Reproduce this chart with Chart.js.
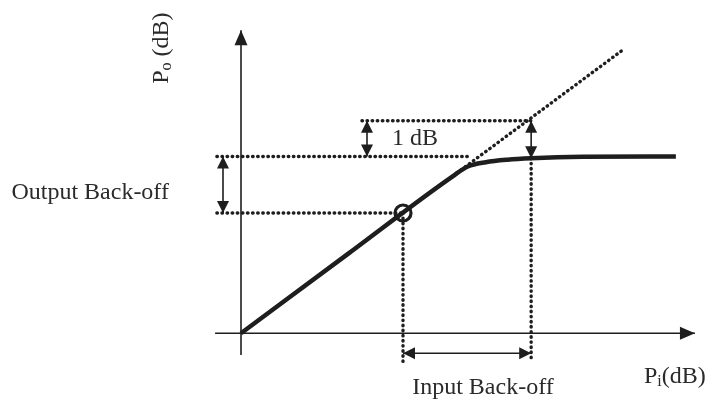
<!DOCTYPE html>
<html>
<head>
<meta charset="utf-8">
<script src="https://cdn.jsdelivr.net/npm/chart.js@4/dist/chart.umd.min.js"></script>
<style>
html, body { margin: 0; padding: 0; background: #fff; }
</style>
</head>
<body>
<canvas id="myChart" width="708" height="406"></canvas>
<script>
// amplifier transfer curve, input dB -> output dB
var curveIn  = [0, 3, 5.9, 6.3, 6.8, 7.4, 8.06, 9.5, 12.08]
var curveOut = [0, 2.24, 4.40, 4.66, 4.78, 4.85, 4.89, 4.93, 4.94]
// ideal linear gain (dotted extension)
var linIn  = [6.0, 10.61]
var linOut = [4.48, 7.92]
// key levels
var satOut  = 4.94          // saturated output
var opIn    = 4.5           // operating point
var opOut   = 3.36
var p1In    = 8.06          // 1 dB compression point
var p1Lin   = 5.94
var p1Out   = 4.89
// axis extents
var xAxisFrom = -0.72, xAxisTo = 12.61
var yAxisFrom = -0.61, yAxisTo = 8.47
// annotation texts
var labelText = ['1 dB', 'Output Back-off', 'Input Back-off']
var labelX    = [4.83, -4.19, 6.72]
var labelY    = [5.44, 3.92, -1.52]

var ink = '#1e1e1e'
var dotted = { borderDash: [0.5, 4.6], borderCapStyle: 'round', borderWidth: 3.4 }

function pts(xs, ys) { return xs.map((x, i) => ({ x: x, y: ys[i] })) }
function seg(x1, y1, x2, y2) { return [{ x: x1, y: y1 }, { x: x2, y: y2 }] }

function line(data, extra) {
    return Object.assign({
        data: data, showLine: true, pointRadius: 0, borderColor: ink,
        backgroundColor: ink, borderWidth: 1.6, clip: false, tension: 0
    }, extra || {})
}

var datasets = [
    line(seg(xAxisFrom, 0, xAxisTo, 0), { arrow: 'end', headLen: 15, headW: 13 }),
    line(seg(0, yAxisFrom, 0, yAxisTo), { arrow: 'end', headLen: 15, headW: 13 }),
    // dotted guides
    line(pts(linIn, linOut), dotted),
    line(seg(xAxisFrom + 0.05, satOut, 6.4, satOut), dotted),
    line(seg(xAxisFrom + 0.05, opOut, opIn, opOut), dotted),
    line(seg(3.36, p1Lin, p1In, p1Lin), dotted),
    line(seg(opIn, opOut, opIn, -0.8), dotted),
    line(seg(p1In, p1Out, p1In, -0.8), dotted),
    // back-off arrows
    line(seg(-0.5, satOut, -0.5, opOut), { arrow: 'both', headLen: 12, headW: 12 }),
    line(seg(3.5, p1Lin, 3.5, satOut), { arrow: 'both', headLen: 12, headW: 12 }),
    line(seg(p1In, p1Lin, p1In, p1Out), { arrow: 'both', headLen: 12, headW: 12 }),
    line(seg(opIn, -0.56, p1In, -0.56), { arrow: 'both', headLen: 12, headW: 12 }),
    // transfer curve
    line(pts(curveIn, curveOut), { borderWidth: 4.5, cubicInterpolationMode: 'monotone' }),
    // operating point marker
    {
        data: [{ x: opIn, y: opOut }], pointRadius: 8, pointBorderWidth: 3.2,
        pointBorderColor: ink, pointBackgroundColor: 'rgba(0,0,0,0)', clip: false
    }
]

function head(ctx, from, to, len, w) {
    var ang = Math.atan2(to.y - from.y, to.x - from.x)
    ctx.save()
    ctx.translate(to.x, to.y)
    ctx.rotate(ang)
    ctx.beginPath()
    ctx.moveTo(0, 0)
    ctx.lineTo(-len, -w / 2)
    ctx.lineTo(-len, w / 2)
    ctx.closePath()
    ctx.fillStyle = ink
    ctx.fill()
    ctx.restore()
}

// text pieces: [text, size, baseline shift]
function rich(ctx, parts, cx, cy) {
    var total = 0
    parts.forEach(p => { ctx.font = p[1] + 'px "Liberation Serif", serif'; total += ctx.measureText(p[0]).width })
    var x = cx - total / 2
    parts.forEach(p => {
        ctx.font = p[1] + 'px "Liberation Serif", serif'
        ctx.fillText(p[0], x, cy + p[2])
        x += ctx.measureText(p[0]).width
    })
}

var arrowPlugin = {
    id: 'arrows',
    afterDatasetsDraw(chart) {
        var ctx = chart.ctx
        chart.data.datasets.forEach((ds, i) => {
            if (!ds.arrow) return
            var el = chart.getDatasetMeta(i).data
            var a = el[0], b = el[el.length - 1]
            head(ctx, a, b, ds.headLen, ds.headW)
            if (ds.arrow == 'both') head(ctx, b, a, ds.headLen, ds.headW)
        })
    }
}

var textPlugin = {
    id: 'texts',
    afterDraw(chart) {
        var ctx = chart.ctx, sx = chart.scales.x, sy = chart.scales.y
        ctx.save()
        ctx.fillStyle = '#2a2a2a'
        ctx.textBaseline = 'middle'
        ctx.textAlign = 'center'
        ctx.font = '24px "Liberation Serif", serif'
        labelText.forEach((t, i) => {
            ctx.fillText(t, sx.getPixelForValue(labelX[i]), sy.getPixelForValue(labelY[i]))
        })
        ctx.textAlign = 'left'
        rich(ctx, [['P', 24, 0], ['i', 16, 5], ['(dB)', 24, 0]],
            sx.getPixelForValue(12.05), sy.getPixelForValue(-1.22))
        ctx.translate(sx.getPixelForValue(-2.2), sy.getPixelForValue(7.97))
        ctx.rotate(-Math.PI / 2)
        rich(ctx, [['P', 24, 0], ['o', 16, 5], [' (dB)', 24, 0]], 0, 0)
        ctx.restore()
    }
}

var ctx = document.getElementById('myChart')
var myChart = new Chart(ctx, {
    type: 'scatter',
    data: { datasets: datasets },
    options: {
        responsive: false,
        animation: false,
        devicePixelRatio: 1,
        layout: { padding: { left: 205, right: 17, top: 9, bottom: 37 } },
        scales: {
            x: { type: 'linear', min: -1, max: 12.5, display: false },
            y: { type: 'linear', min: -1, max: 9, display: false }
        },
        plugins: { legend: { display: false }, tooltip: { enabled: false } }
    },
    plugins: [arrowPlugin, textPlugin]
})
</script>
</body>
</html>
